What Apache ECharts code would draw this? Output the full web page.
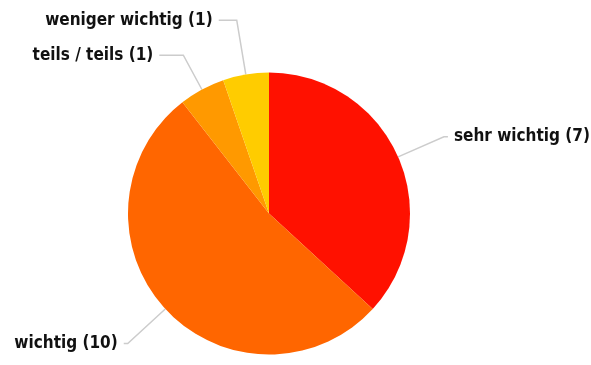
<!DOCTYPE html>
<html><head><meta charset="utf-8">
<script src="https://cdn.jsdelivr.net/npm/echarts@6/dist/echarts.min.js"></script>
<style>html,body{margin:0;padding:0;background:#fff}#c{width:591px;height:365px}</style>
</head><body><div id="c"></div>
<script>
const categories = ['sehr wichtig', 'wichtig', 'teils / teils', 'weniger wichtig'];
const values = [7, 10, 1, 1];
const colors = ['#ff1100', '#ff6600', '#ff9900', '#ffcc00'];
const lineLen = [50, 51, 39, 55];
const lineLen2 = [4, 4, 24, 18];

const chart = echarts.init(document.getElementById('c'), null, {renderer: 'canvas'});
chart.setOption({
  animation: false,
  series: [{
    type: 'pie',
    center: [269, 213.5],
    radius: 141,
    startAngle: 90,
    clockwise: true,
    avoidLabelOverlap: false,
    label: {
      show: true,
      formatter: p => p.name + ' (' + p.value + ')',
      fontFamily: 'DejaVu Sans Condensed',
      fontWeight: 'bold',
      fontSize: 17,
      color: '#111',
      distanceToLabelLine: 6
    },
    labelLine: {
      show: true,
      lineStyle: {color: '#cccccc', width: 1.5}
    },
    emphasis: {disabled: true},
    data: categories.map((c, i) => ({
      name: c, value: values[i],
      itemStyle: {color: colors[i]},
      labelLine: {length: lineLen[i], length2: lineLen2[i]}
    }))
  }]
});
</script></body></html>
